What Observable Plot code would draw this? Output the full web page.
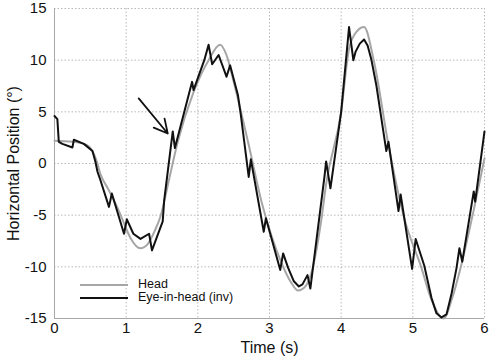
<!DOCTYPE html>
<html>
<head>
<meta charset="utf-8">
<script src="https://cdn.jsdelivr.net/npm/d3@7"></script>
<script src="https://cdn.jsdelivr.net/npm/@observablehq/plot@0.6"></script>
<style>
  body { margin: 0; background: #fff; }
  #wrap { position: relative; width: 492px; height: 364px; font-family: "Liberation Sans", Arial, sans-serif; }
  #legend { position: absolute; left: 80px; top: 278px; font-size: 12.5px; color: #111; line-height: 13px; }
  #legend .row { display: flex; align-items: center; height: 13px; }
  #legend .sw { width: 48px; height: 0; border-top-style: solid; margin-right: 10px; }
</style>
</head>
<body>
<div id="wrap"></div>
<script>
// Head (gray)
const headT = [0,0.25,0.45,0.52,0.58,0.64,0.76,0.88,0.97,1.06,1.2,1.3,1.4,1.48,1.6,1.72,1.94,2.15,2.31,2.4,2.5,2.7,2.9,3.16,3.3,3.4,3.5,3.58,3.72,3.79,4.0,4.11,4.22,4.32,4.46,4.66,4.88,5.12,5.25,5.43,5.55,5.68,5.85,6.0];
const headY = [2.2,2.1,1.8,1.3,0.4,-1.0,-2.6,-4.3,-5.8,-7.2,-8.2,-7.8,-6.5,-5.1,-1.5,2.1,6.9,10,11.5,10.5,7.9,2.1,-4,-9.5,-11.5,-12.3,-11.9,-10.7,-5.6,-2,5,11.1,12.8,13.2,9.8,1.8,-5.3,-10.1,-13,-15,-13,-9.7,-4.5,0.5];
// Eye-in-head (inv) (black)
const eyeT = [0,0.04,0.06,0.11,0.25,0.27,0.41,0.53,0.57,0.6,0.64,0.76,0.8,0.97,1.01,1.1,1.2,1.32,1.36,1.51,1.53,1.65,1.68,1.92,1.94,2.09,2.15,2.2,2.29,2.4,2.45,2.56,2.6,2.71,2.74,2.92,2.95,3.15,3.19,3.26,3.34,3.41,3.46,3.53,3.57,3.77,3.79,3.85,4.0,4.11,4.17,4.2,4.26,4.32,4.37,4.42,4.49,4.63,4.66,4.8,4.83,4.99,5.04,5.09,5.16,5.26,5.33,5.4,5.47,5.54,5.61,5.65,5.69,5.85,5.87,6.0];
const eyeY = [4.6,4.3,2.1,1.9,1.55,2.3,1.9,1.2,0.2,-0.8,-1.6,-4.2,-2.9,-6.8,-5.4,-6.8,-7.3,-6.8,-8.4,-5.6,-3.6,3.1,1.5,7.9,7.1,10,11.5,9.6,10.5,8.4,9.5,6.6,4.7,-1.3,0.4,-6.6,-5.3,-10.3,-8.7,-10.1,-11.4,-11.9,-11.7,-10.8,-12.1,-1.1,0.2,-2.4,5,13.2,10,10.8,11.6,12,11.4,10.1,7.6,1.2,2.1,-4.6,-3,-10.2,-7.3,-8.4,-9.9,-13,-14.5,-14.9,-14.6,-12.6,-10.1,-8.2,-9.5,-2.7,-3.7,3.1];
// Axes
const xTicks = [0,1,2,3,4,5,6];
const yTicks = [-15,-10,-5,0,5,10,15];
const xDomain = [0,6];
const yDomain = [-15,15];
// Arrow annotation (data coords)
const arrowX1 = [1.175], arrowY1 = [6.3], arrowX2 = [1.58], arrowY2 = [2.9];
const seriesNames = ["Head", "Eye-in-head (inv)"];
const seriesColors = ["#a6a6a6", "#111111"];

const head = headT.map((t, i) => ({t, v: headY[i]}));
const eye = eyeT.map((t, i) => ({t, v: eyeY[i]}));
const arrows = arrowX1.map((x, i) => ({x1: x, y1: arrowY1[i], x2: arrowX2[i], y2: arrowY2[i]}));

const chart = Plot.plot({
  width: 492,
  height: 364,
  marginLeft: 54,
  marginRight: 8,
  marginTop: 8,
  marginBottom: 46,
  style: {fontFamily: '"Liberation Sans", Arial, sans-serif', fontSize: "15px", color: "#111", background: "#fff"},
  x: {domain: xDomain},
  y: {domain: yDomain},
  marks: [
    Plot.gridX(xTicks, {stroke: "#b8b8b8", strokeOpacity: 1, strokeDasharray: "1.5,2"}),
    Plot.gridY(yTicks, {stroke: "#b8b8b8", strokeOpacity: 1, strokeDasharray: "1.5,2"}),
    Plot.ruleX([xDomain[0]], {stroke: "#a8a8a8"}),
    Plot.ruleY([yDomain[0]], {stroke: "#a8a8a8"}),
    Plot.axisX(xTicks, {tickSize: 0, tickPadding: 4, label: null, fontSize: 15, tickFormat: d => String(d)}),
    Plot.axisY(yTicks, {tickSize: 0, tickPadding: 8, label: null, fontSize: 15, tickFormat: d => String(d)}),
    Plot.text(["Horizontal Position (°)"], {frameAnchor: "left", textAnchor: "middle", dx: -41, rotate: -90, fontSize: 16, fill: "#111"}),
    Plot.text(["Time (s)"], {frameAnchor: "bottom", dy: 34, fontSize: 16, fill: "#111"}),
    Plot.line(head, {x: "t", y: "v", stroke: seriesColors[0], strokeWidth: 2, curve: "monotone-x"}),
    Plot.line(eye, {x: "t", y: "v", stroke: seriesColors[1], strokeWidth: 2, curve: "linear"}),
    Plot.arrow(arrows, {x1: "x1", y1: "y1", x2: "x2", y2: "y2", stroke: "#111", strokeWidth: 1.8, headLength: 14, headAngle: 55})
  ]
});
const wrap = document.getElementById("wrap");
wrap.appendChild(chart);
const legend = document.createElement("div");
legend.id = "legend";
seriesNames.forEach((n, i) => {
  const row = document.createElement("div");
  row.className = "row";
  const sw = document.createElement("span");
  sw.className = "sw";
  sw.style.borderTopColor = seriesColors[i];
  sw.style.borderTopWidth = "2px";
  const lab = document.createElement("span");
  lab.textContent = n;
  row.appendChild(sw);
  row.appendChild(lab);
  legend.appendChild(row);
});
wrap.appendChild(legend);
</script>
</body>
</html>
